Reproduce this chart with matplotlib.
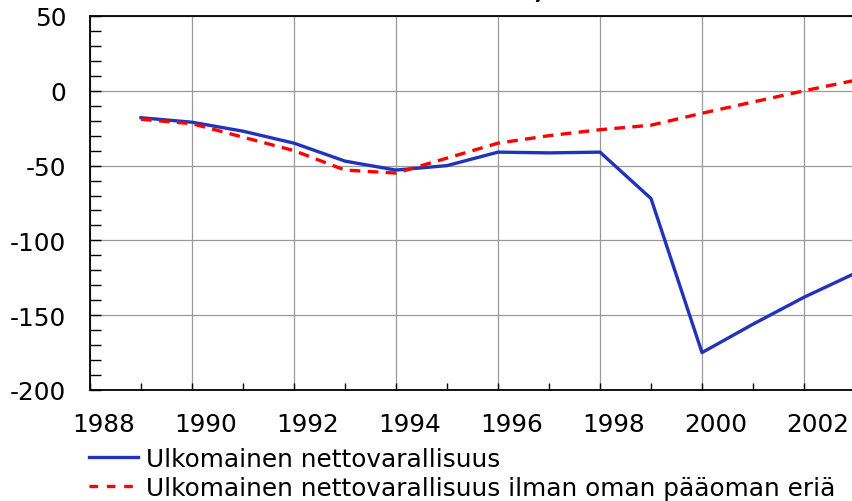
import matplotlib
matplotlib.use("Agg")
import matplotlib.pyplot as plt
import matplotlib.transforms as mtransforms
from matplotlib.lines import Line2D
from matplotlib.ticker import MultipleLocator

plt.rcParams["font.family"] = ["DejaVu Sans"]
plt.rcParams["axes.unicode_minus"] = False

# Net foreign assets, bn euro
years = [1989, 1990, 1991, 1992, 1993, 1994, 1995, 1996,
         1997, 1998, 1999, 2000, 2001, 2002, 2003]
net_assets = [-18, -21, -27, -35, -47, -53, -50, -41,
              -41.5, -41, -72, -175, -156, -138, -122]
net_assets_excl_equity = [-19, -22, -31, -40, -53, -55, -45, -35,
                          -30, -26, -23, -15, -7.5, 0, 7]

label_blue = "Ulkomainen nettovarallisuus"
label_red = "Ulkomainen nettovarallisuus ilman oman pääoman eriä"
title = "Ulkomainen nettovarallisuus, mrd. euroa"

blue = "#2233bb"
red = "#ff0000"
fs = 17.8

fig = plt.figure(figsize=(8.52, 5.02), dpi=100)
ax = fig.add_axes([90 / 852, 111 / 502, 765 / 852, 374 / 502])

ax.plot(years, net_assets, color=blue, lw=2.4, zorder=3)
red_line, = ax.plot(years, net_assets_excl_equity, color=red, lw=2.4, zorder=3)
red_line.set_dashes((3.2, 2.2))

ax.set_xlim(1988, 2003)
ax.set_ylim(-200, 50)
ax.xaxis.set_major_locator(MultipleLocator(2))
ax.xaxis.set_minor_locator(MultipleLocator(1))
ax.yaxis.set_major_locator(MultipleLocator(50))
ax.yaxis.set_minor_locator(MultipleLocator(10))

ax.grid(True, which="major", color="#9a9a9a", lw=0.9, zorder=1)
ax.tick_params(axis="x", which="both", direction="in", length=5, width=1,
               labelsize=fs, pad=16)
ax.tick_params(axis="y", which="both", direction="in", length=8, width=1,
               labelsize=fs, pad=17)
for side in ("left", "bottom", "top"):
    ax.spines[side].set_linewidth(1.3)
ax.spines["right"].set_visible(False)

# year labels sit a little to the right of their gridlines
shift = mtransforms.ScaledTranslation(0.14, 0, fig.dpi_scale_trans)
for lbl in ax.get_xticklabels():
    lbl.set_transform(lbl.get_transform() + shift)

# the heading runs off the top edge, only its lowest strokes show
fig.text(85 / 852, 1 + 2.5 / 502, title, fontsize=20, fontweight="bold",
         va="baseline", ha="left")

handles = [
    Line2D([], [], color=blue, lw=2.4),
    Line2D([], [], color=red, lw=2.4, dashes=(2.6, 2.6)),
]
fig.legend(handles, [label_blue, label_red], loc="upper left",
           bbox_to_anchor=(89 / 852, 1 - 448 / 502), frameon=False,
           fontsize=fs, handlelength=2.0, handletextpad=0.3,
           labelspacing=0.2, borderpad=0, borderaxespad=0)

fig.savefig("out.png", dpi=100)
